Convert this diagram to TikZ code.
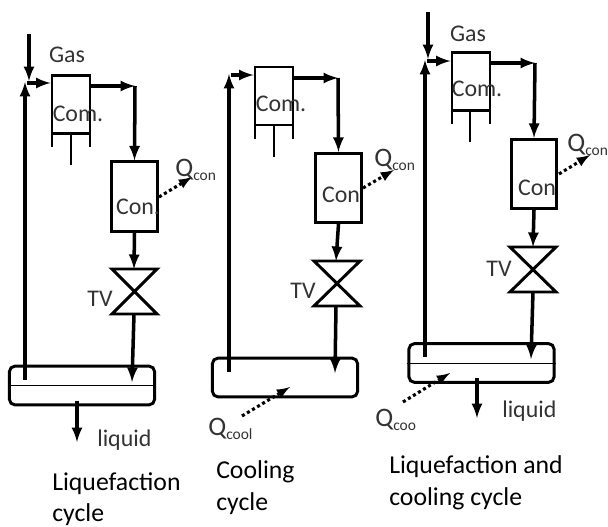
\documentclass[tikz,border=0pt]{standalone}
\usepackage{fontspec}
\setmainfont{Carlito}
\newcommand{\heatq}[1]{Q\textsubscript{\fontsize{11}{11}\selectfont #1}}
\tikzstyle{line}=[line width=2.5pt,-latex]
\tikzstyle{plain}=[line width=2.1pt]
\tikzstyle{heat}=[line width=2.2pt,dotted,-latex]
\tikzstyle{box}=[draw,line width=2.1pt,inner sep=0pt]
\tikzstyle{compbox}=[box,minimum width=0.95cm,minimum height=1.45cm]
\tikzstyle{condbox}=[box,minimum width=1.13cm,minimum height=1.73cm]
\tikzstyle{tank}=[box,rounded corners=4pt,minimum width=3.63cm,minimum height=0.97cm]
\tikzstyle{tag}=[text=black!80,font=\fontsize{17}{17}\selectfont,inner sep=0pt]
\tikzstyle{qtag}=[tag,anchor=west,font=\fontsize{19}{19}\selectfont]
\tikzstyle{caption}=[font=\fontsize{18.3}{22.7}\selectfont,align=left,anchor=north west,inner sep=0pt]
\begin{document}
\begin{tikzpicture}[x=0.025cm,y=-0.025cm]
\useasboundingbox (0,0) rectangle (608,527);

% liquefaction cycle
\node[compbox] at (71,104.5) (com1) {};
\node[condbox] at (134.5,196.5) (con1) {};
\node[tank] at (82,385.5) (tank1) {};
\coordinate (gas1) at (29,34);
\coordinate (mix1) at (25,82);
\coordinate (out1) at (135,86);
\coordinate (vt1) at (134,269);
\coordinate (vb1) at (134,314);
\coordinate (in1) at (25,380);
\coordinate (end1) at (132,382);
\coordinate (tap1) at (77,401);
\coordinate (liq1) at (77,442);
\coordinate (qa1) at (159,197);
\coordinate (qb1) at (192,177);
\draw[plain] (112,269) -- (157,269) -- (112,314) -- (157,314) -- cycle;
\draw[line] (gas1) -- (29,81);
\draw[line] (in1) -- (mix1);
\draw[line] (27,83) -- (com1.west |- 0,83);
\draw[line] (com1.east |- 0,86) -- (out1);
\draw[line] (out1) -- (con1.north);
\draw[line] (con1.south) -- (vt1);
\draw[line] (vb1) -- (end1);
\draw[line] (tap1) -- (liq1);
\draw[heat] (qa1) -- (qb1);
\draw[plain] (52,133) -- (52,147);
\draw[plain] (90,133) -- (90,147);
\draw[plain] (71,133) -- (71,165);
\draw[line width=0.7pt] (tank1.west) -- (tank1.east);
\node[tag] at (67,55) (gas1t) {Gas};
\node[tag] at (78,114) (com1t) {Com.};
\node[tag] at (138,207) (con1t) {Con.};
\node[tag] at (100,299) (tv1t) {TV};
\node[qtag] at (175,170) (q1t) {\heatq{con}};
\node[tag,anchor=west] at (97,440) (liq1t) {liquid};
\node[caption] at (52,472) (cap1) {Liquefaction\\cycle};

% cooling cycle
\node[compbox] at (274,96) (com2) {};
\node[condbox] at (338.5,188) (con2) {};
\node[tank] at (285,377.5) (tank2) {};
\coordinate (mix2) at (229,74);
\coordinate (out2) at (338,78);
\coordinate (vt2) at (336,261);
\coordinate (vb2) at (336,306);
\coordinate (in2) at (229,372);
\coordinate (end2) at (335,373);
\coordinate (qc2) at (363,188);
\coordinate (qd2) at (394,170);
\coordinate (qa2) at (242,416);
\coordinate (qb2) at (290,387);
\draw[plain] (314,261) -- (360,261) -- (314,306) -- (360,306) -- cycle;
\draw[line] (in2) -- (mix2);
\draw[line] (231,75) -- (com2.west |- 0,75);
\draw[line] (com2.east |- 0,78) -- (out2);
\draw[line] (out2) -- (con2.north);
\draw[line] (con2.south) -- (vt2);
\draw[line] (vb2) -- (end2);
\draw[heat] (qc2) -- (qd2);
\draw[heat] (qa2) -- (qb2);
\draw[plain] (255,125) -- (255,139);
\draw[plain] (293,125) -- (293,139);
\draw[plain] (274,125) -- (274,157);
\node[tag] at (281,104) (com2t) {Com.};
\node[tag] at (341,195) (con2t) {Con};
\node[tag] at (303,291) (tv2t) {TV};
\node[qtag] at (374,160) (q2t) {\heatq{con}};
\node[qtag] at (208,429) (q2c) {\heatq{cool}};
\node[caption] at (216,460) (cap2) {Cooling\\cycle};

% liquefaction and cooling cycle
\node[compbox] at (471,81.5) (com3) {};
\node[condbox] at (534,174) (con3) {};
\node[tank] at (481.5,363) (tank3) {};
\coordinate (gas3) at (428,12);
\coordinate (mix3) at (425,60);
\coordinate (out3) at (535,63);
\coordinate (vt3) at (533,247);
\coordinate (vb3) at (533,292);
\coordinate (in3) at (425,357);
\coordinate (end3) at (531,359);
\coordinate (tap3) at (477,378);
\coordinate (liq3) at (477,418);
\coordinate (qc3) at (559,174);
\coordinate (qd3) at (590,155);
\coordinate (qa3) at (403,402);
\coordinate (qb3) at (450,373);
\draw[plain] (510,247) -- (556,247) -- (510,292) -- (556,292) -- cycle;
\draw[line] (gas3) -- (428,59);
\draw[line] (in3) -- (mix3);
\draw[line] (427,61) -- (com3.west |- 0,61);
\draw[line] (com3.east |- 0,63) -- (out3);
\draw[line] (out3) -- (con3.north);
\draw[line] (con3.south) -- (vt3);
\draw[line] (vb3) -- (end3);
\draw[line] (tap3) -- (liq3);
\draw[heat] (qc3) -- (qd3);
\draw[heat] (qa3) -- (qb3);
\draw[plain] (452,110) -- (452,124);
\draw[plain] (490,110) -- (490,124);
\draw[plain] (470,110) -- (470,142);
\draw[line width=0.7pt] (tank3.west) -- (tank3.east);
\node[tag] at (468,34) (gas3t) {Gas};
\node[tag] at (477,89) (com3t) {Com.};
\node[tag] at (537,188) (con3t) {Con};
\node[tag] at (499,269) (tv3t) {TV};
\node[qtag] at (567,145) (q3t) {\heatq{con}};
\node[qtag] at (375,420) (q3c) {\heatq{coo}};
\node[tag,anchor=west] at (502,411) (liq3t) {liquid};
\node[caption] at (389,455) (cap3) {Liquefaction and\\cooling cycle};

\end{tikzpicture}
\end{document}
